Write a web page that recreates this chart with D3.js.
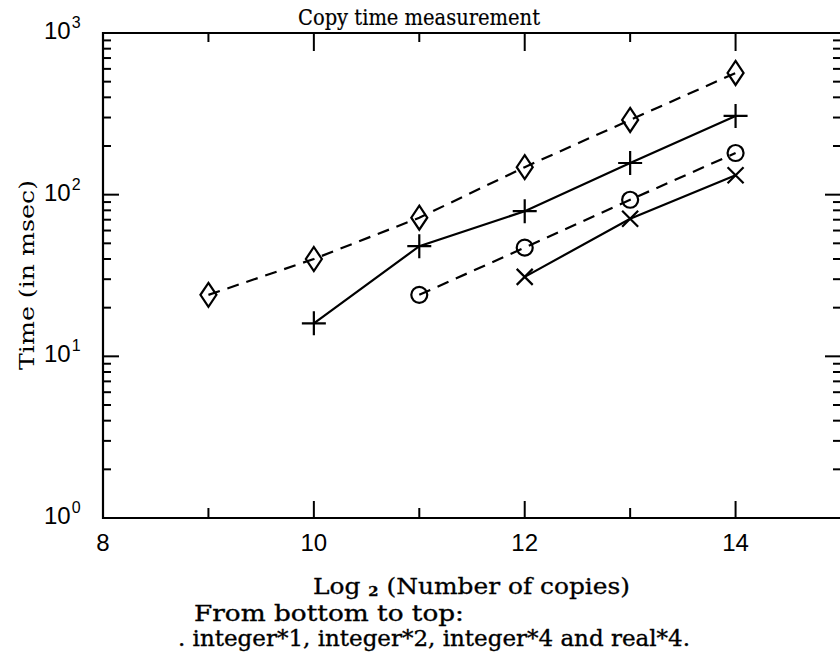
<!DOCTYPE html>
<html>
<head>
<meta charset="utf-8">
<script src="https://cdn.jsdelivr.net/npm/d3@7"></script>
<style>
  body { margin: 0; background: #fff; }
  svg { display: block; }
</style>
</head>
<body>
<div id="chart"></div>
<script>
// copy times (msec) against log2 of the number of copies
const copies = [9, 10, 11, 12, 13, 14];
const real4 = [24, 40, 72, 148, 290, 566];
const integer4 = [null, 16, 48, 79, 157, 307];
const integer2 = [null, null, 24, 47, 93, 181];
const integer1 = [null, null, null, 31, 71, 132];

const xTicks = [8, 10, 12, 14];
const xMinor = [9, 11, 13];
const yDecades = [1, 10, 100, 1000];

const W = 840, H = 654;
const svg = d3.select("#chart").append("svg")
  .attr("width", W)
  .attr("height", H);

const x = d3.scaleLinear().domain([8, 15]).range([103, 841]);
const y = d3.scaleLog().domain([1, 1000]).range([518, 33]);

const serif = "'DejaVu Serif', serif";
const sans = "'Liberation Sans', Arial, sans-serif";

// frame
const frame = svg.append("g")
  .attr("stroke", "#000")
  .attr("stroke-width", 2.2)
  .attr("fill", "none");
frame.append("path")
  .attr("d", `M${x(15)},${y(1000)}H${x(8)}V${y(1)}H${x(15)}`);

// y ticks, left and right, pointing inward
const yMinor = [];
yDecades.slice(0, -1).forEach(d => {
  for (let k = 2; k <= 9; k++) yMinor.push(d * k);
});
const ticks = svg.append("g").attr("stroke", "#000").attr("stroke-width", 2);
yDecades.forEach(v => {
  ticks.append("line").attr("x1", x(8)).attr("x2", x(8) + 16).attr("y1", y(v)).attr("y2", y(v));
  ticks.append("line").attr("x1", x(15)).attr("x2", x(15) - 16).attr("y1", y(v)).attr("y2", y(v));
});
yMinor.forEach(v => {
  ticks.append("line").attr("x1", x(8)).attr("x2", x(8) + 8).attr("y1", y(v)).attr("y2", y(v));
  ticks.append("line").attr("x1", x(15)).attr("x2", x(15) - 8).attr("y1", y(v)).attr("y2", y(v));
});

// x ticks, bottom and top
xTicks.forEach(v => {
  ticks.append("line").attr("x1", x(v)).attr("x2", x(v)).attr("y1", y(1)).attr("y2", y(1) - 17);
  ticks.append("line").attr("x1", x(v)).attr("x2", x(v)).attr("y1", y(1000)).attr("y2", y(1000) + 18);
});
xMinor.forEach(v => {
  ticks.append("line").attr("x1", x(v)).attr("x2", x(v)).attr("y1", y(1)).attr("y2", y(1) - 10);
  ticks.append("line").attr("x1", x(v)).attr("x2", x(v)).attr("y1", y(1000)).attr("y2", y(1000) + 9);
});

// tick labels
svg.append("g").selectAll("text")
  .data(xTicks)
  .join("text")
  .attr("x", d => x(d))
  .attr("y", y(1) + 33)
  .attr("text-anchor", "middle")
  .attr("font-family", sans)
  .attr("font-size", 24)
  .text(d => d);

const yl = svg.append("g").selectAll("text")
  .data(yDecades)
  .join("text")
  .attr("x", 44)
  .attr("y", d => y(d) + 6)
  .attr("font-family", sans)
  .attr("font-size", 24);
yl.append("tspan").text("10");
yl.append("tspan")
  .attr("dy", -11)
  .attr("dx", 1)
  .attr("font-size", 16)
  .text(d => Math.round(Math.log10(d)));

// titles
svg.append("text")
  .attr("x", 419).attr("y", 25)
  .attr("text-anchor", "middle")
  .attr("font-family", serif).attr("font-size", 22)
  .attr("stroke", "#000").attr("stroke-width", 0.2)
  .attr("textLength", 242).attr("lengthAdjust", "spacingAndGlyphs")
  .text("Copy time measurement");

svg.append("text")
  .attr("transform", `translate(34,275) rotate(-90)`)
  .attr("text-anchor", "middle")
  .attr("font-family", serif).attr("font-size", 21)
  .attr("textLength", 190).attr("lengthAdjust", "spacingAndGlyphs")
  .text("Time (in msec)");

const xl = svg.append("text")
  .attr("x", 313).attr("y", 594)
  .attr("font-family", serif).attr("font-size", 22)
  .attr("stroke", "#000").attr("stroke-width", 0.3)
  .attr("textLength", 317).attr("lengthAdjust", "spacingAndGlyphs");
xl.append("tspan").text("Log ");
xl.append("tspan").attr("font-size", 13).attr("font-weight", "bold").attr("dy", 2).text("2");
xl.append("tspan").attr("dy", -2).text(" (Number of copies)");

const caption = svg.append("g")
  .attr("font-family", serif).attr("font-size", 22)
  .attr("stroke", "#000").attr("stroke-width", 0.35);
caption.append("text")
  .attr("x", 194).attr("y", 621)
  .attr("textLength", 270).attr("lengthAdjust", "spacingAndGlyphs")
  .text("From bottom to top:");
caption.append("text")
  .attr("x", 178).attr("y", 646)
  .attr("textLength", 512).attr("lengthAdjust", "spacingAndGlyphs")
  .text(". integer*1, integer*2, integer*4 and real*4.");

// series
const series = [
  { name: "real*4", values: real4, dash: "12,8", marker: "diamond" },
  { name: "integer*4", values: integer4, dash: null, marker: "plus" },
  { name: "integer*2", values: integer2, dash: "12,8", marker: "circle" },
  { name: "integer*1", values: integer1, dash: null, marker: "cross" }
];

const line = d3.line()
  .defined(d => d.v != null)
  .x(d => x(d.c))
  .y(d => y(d.v));

const markerPath = {
  diamond: "M0,-12L8,0L0,12L-8,0Z",
  plus: "M-12,0H12M0,-12V12",
  circle: "M8,0A8,8 0 1,1 -8,0A8,8 0 1,1 8,0Z",
  cross: "M-8,-8L8,8M-8,8L8,-8"
};

series.forEach(s => {
  const pts = copies.map((c, i) => ({ c, v: s.values[i] }));
  svg.append("path")
    .datum(pts)
    .attr("d", line)
    .attr("fill", "none")
    .attr("stroke", "#000")
    .attr("stroke-width", 2.2)
    .attr("stroke-dasharray", s.dash);
  svg.append("g").selectAll("path")
    .data(pts.filter(d => d.v != null))
    .join("path")
    .attr("transform", d => `translate(${x(d.c)},${y(d.v)})`)
    .attr("d", markerPath[s.marker])
    .attr("fill", "none")
    .attr("stroke", "#000")
    .attr("stroke-width", 2.2);
});
</script>
</body>
</html>
